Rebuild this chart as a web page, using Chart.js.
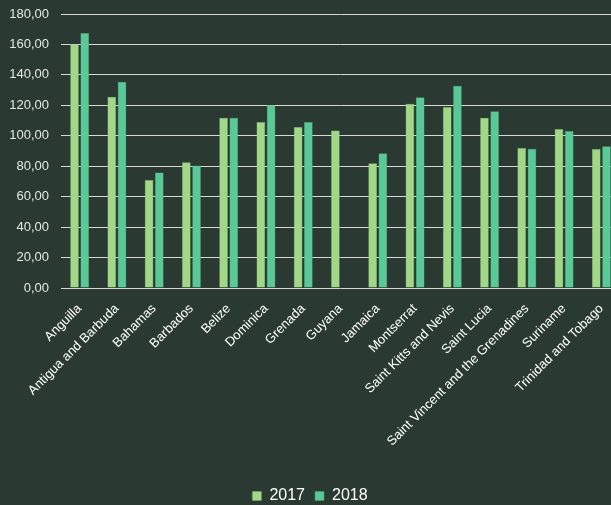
<!DOCTYPE html>
<html>
<head>
<meta charset="utf-8">
<script src="https://cdn.jsdelivr.net/npm/chart.js@4"></script>
<style>
  html, body { margin: 0; padding: 0; background: #2a3a32; overflow: hidden; }
  #wrap { width: 640px; height: 505px; position: relative; }
</style>
</head>
<body>
<div id="wrap"><canvas id="chart"></canvas></div>
<script>
// data
const countries = [
  'Anguilla', 'Antigua and Barbuda', 'Bahamas', 'Barbados', 'Belize',
  'Dominica', 'Grenada', 'Guyana', 'Jamaica', 'Montserrat',
  'Saint Kitts and Nevis', 'Saint Lucia', 'Saint Vincent and the Grenadines',
  'Suriname', 'Trinidad and Tobago'
];
const values2017 = [160, 125.7, 71, 82.6, 111.9, 109, 105.8, 103.4, 81.9, 121.1, 118.9, 111.9, 92, 104.5, 91.3];
const values2018 = [167.5, 135.5, 75.8, 80.4, 111.9, 120, 109, 0, 88.5, 125.3, 132.9, 116.1, 91.5, 103.2, 93.1];
const yTicks = [0, 20, 40, 60, 80, 100, 120, 140, 160, 180];

const fmt = v => v.toFixed(2).replace('.', ',');

new Chart(document.getElementById('chart'), {
  type: 'bar',
  data: {
    labels: countries,
    datasets: [
      { label: '2017', data: values2017, backgroundColor: '#a0d887', borderColor: '#7fa86c', borderWidth: 0.5 },
      { label: '2018', data: values2018, backgroundColor: '#5ac897', borderColor: '#469c76', borderWidth: 0.5 }
    ]
  },
  options: {
    responsive: true,
    maintainAspectRatio: false,
    animation: false,
    categoryPercentage: 0.55,
    barPercentage: 0.85,
    layout: { padding: { top: 14, right: 20, left: 0, bottom: -9 } },
    plugins: {
      tooltip: { enabled: false },
      legend: {
        position: 'bottom',
        labels: {
          color: '#ffffff',
          font: { family: 'Liberation Sans', size: 16 },
          boxWidth: 9,
          boxHeight: 9,
          padding: 10
        }
      }
    },
    scales: {
      x: {
        grid: { display: false },
        border: { display: false },
        ticks: {
          color: '#ffffff',
          font: { family: 'Liberation Sans', size: 13 },
          maxRotation: 45,
          minRotation: 45,
          autoSkip: false,
          padding: 5
        },
        afterFit: axis => { axis.height = 190; }
      },
      y: {
        min: 0,
        max: 180,
        afterBuildTicks: axis => { axis.ticks = yTicks.map(v => ({ value: v })); },
        afterFit: axis => { axis.width = 61; axis.paddingTop = 0; axis.paddingBottom = 0; },
        grid: { color: '#d8d8d8', lineWidth: 1, drawTicks: false },
        border: { display: false },
        ticks: {
          color: '#e6e6e6',
          font: { family: 'Liberation Sans', size: 13 },
          padding: 12,
          callback: v => fmt(v)
        }
      }
    }
  }
});
</script>
</body>
</html>
